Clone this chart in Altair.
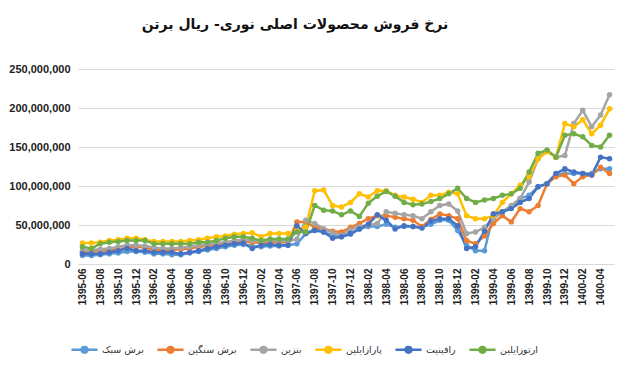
import altair as alt
import pandas as pd

months = [
    "1395-06", "1395-07", "1395-08", "1395-09", "1395-10", "1395-11", "1395-12",
    "1396-01", "1396-02", "1396-03", "1396-04", "1396-05", "1396-06",
    "1396-07", "1396-08", "1396-09", "1396-10", "1396-11", "1396-12",
    "1397-01", "1397-02", "1397-03", "1397-04", "1397-05", "1397-06",
    "1397-07", "1397-08", "1397-09", "1397-10", "1397-11", "1397-12",
    "1398-01", "1398-02", "1398-03", "1398-04", "1398-05", "1398-06",
    "1398-07", "1398-08", "1398-09", "1398-10", "1398-11", "1398-12",
    "1399-01", "1399-02", "1399-03", "1399-04", "1399-05", "1399-06",
    "1399-07", "1399-08", "1399-09", "1399-10", "1399-11", "1399-12",
    "1400-01", "1400-02", "1400-03", "1400-04", "1400-05",
]

series_names = ["برش سبک", "برش سنگین", "بنزین", "پارازایلین", "رافینیت", "ارتوزایلین"]
series_colors = ["#5B9BD5", "#ED7D31", "#A5A5A5", "#FFC000", "#4472C4", "#70AD47"]

# values in million rials per tonne
light_cut = [11, 11, 12, 13, 14, 16, 16, 15, 13, 13, 12, 12, 14, 16, 18, 20, 22, 24,
             25, 23, 22, 23, 23, 24,
             26, 39, 45, 41, 36, 35, 38, 45, 48, 48, 51, 47, 48, 48, 47, 51,
             56, 56, 43, 24, 17, 17, 64, 67, 73, 84, 88, 99, 103, 114, 116, 116, 116, 116, 122, 122]
heavy_cut = [15, 16, 17, 18, 19, 21, 22, 21, 18, 18, 18, 19, 20, 22, 23, 25, 27, 28,
             29, 28, 27, 28, 28, 28,
             54, 54, 47, 45, 42, 41, 47, 52, 58, 62, 62, 60, 58, 56, 48, 57,
             64, 62, 58, 30, 26, 36, 52, 62, 54, 71, 67, 75, 103, 112, 114, 103, 112, 114, 124, 116]
gasoline = [17, 18, 19, 20, 22, 24, 24, 23, 21, 20, 20, 21, 22, 24, 25, 27, 28, 30,
            31, 30, 29, 30, 30, 29,
            32, 56, 52, 45, 40, 37, 44, 48, 50, 52, 67, 65, 63, 62, 58, 67,
            75, 77, 68, 39, 41, 47, 58, 67, 75, 84, 105, 135, 146, 137, 139, 180, 197, 176, 191, 217]
paraxylene = [27, 27, 28, 30, 31, 33, 33, 31, 29, 29, 29, 29, 30, 31, 33, 35, 36, 38,
              39, 40, 35, 39, 39, 39,
              43, 47, 94, 95, 75, 73, 79, 90, 86, 94, 94, 88, 86, 83, 79, 88,
              88, 92, 90, 62, 58, 58, 62, 79, 90, 101, 112, 135, 144, 137, 180, 176, 185, 167, 178, 199]
raffinate = [13, 13, 13, 15, 17, 20, 17, 17, 15, 15, 15, 13, 15, 17, 20, 22, 24, 26,
             27, 20, 24, 25, 24, 24,
             49, 39, 43, 41, 33, 35, 39, 45, 51, 63, 56, 45, 49, 48, 46, 55,
             58, 58, 49, 20, 22, 42, 64, 67, 71, 79, 84, 99, 103, 116, 122, 118, 116, 114, 137, 135]
orthoxylene = [22, 20, 26, 28, 29, 30, 30, 30, 26, 26, 26, 26, 26, 28, 28, 30, 33, 35,
               35, 33, 30, 32, 32, 32,
               41, 41, 75, 69, 68, 63, 68, 61, 78, 87, 93, 87, 79, 76, 77, 80,
               84, 90, 97, 84, 79, 82, 84, 88, 90, 97, 118, 142, 146, 137, 165, 167, 163, 152, 150, 165]

y_ticks = [0, 50000000, 100000000, 150000000, 200000000, 250000000]
title_text = "نرخ فروش محصولات اصلی نوری- ریال برتن"

all_series = [light_cut, heavy_cut, gasoline, paraxylene, raffinate, orthoxylene]
rows = []
for name, vals in zip(series_names, all_series):
    for m, v in zip(months, vals):
        rows.append({"month": m, "series": name, "value": v * 1_000_000})
df = pd.DataFrame(rows)

label_months = months[::2]

legend_symbol = "M-1,0H1M-0.22,0A0.22,0.22 0 1,0 0.22,0A0.22,0.22 0 1,0 -0.22,0Z"

chart = alt.Chart(df).mark_line(
    strokeWidth=2.5,
    point=alt.OverlayMarkDef(filled=True, size=30, opacity=1),
).encode(
    x=alt.X("month:O", sort=months, title=None,
            axis=alt.Axis(values=label_months, labelAngle=-90, labelFont="Liberation Sans",
                          labelFontSize=10, labelFontWeight="bold", labelColor="#222",
                          ticks=False, tickSize=0, labelPadding=4, domain=True,
                          domainColor="#D9D9D9", grid=False)),
    y=alt.Y("value:Q", title=None, scale=alt.Scale(domain=[0, 250000000], nice=False),
            axis=alt.Axis(values=y_ticks, format=",.0f", labelFont="Liberation Sans",
                          labelFontSize=11, labelFontWeight="bold", labelColor="#222",
                          ticks=False, tickSize=0, labelPadding=8, domain=False,
                          grid=True, gridColor="#D9D9D9")),
    color=alt.Color("series:N", sort=series_names,
                    scale=alt.Scale(domain=series_names, range=series_colors),
                    legend=alt.Legend(title=None, orient="none", direction="horizontal",
                                      legendX=-8, legendY=266, columns=6,
                                      symbolType=legend_symbol, symbolSize=680,
                                      symbolStrokeWidth=2.5, labelFont="DejaVu Sans",
                                      labelFontSize=9.5, labelColor="#333", labelOffset=3,
                                      columnPadding=8)),
).properties(
    width=536,
    height=195,
    padding={"left": 0, "top": 10, "right": 0, "bottom": 0},
    title=alt.Title(title_text, font="DejaVu Sans", fontSize=14, fontWeight="bold",
                    color="#111", anchor="middle", dx=-51, offset=31),
).configure_view(stroke=None)

chart.save("out.html", embed_options={"renderer": "svg", "actions": False})
